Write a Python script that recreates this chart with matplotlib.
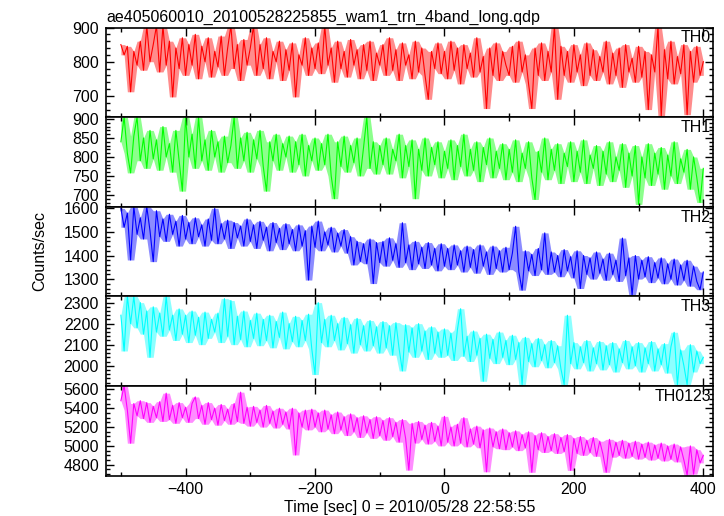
import numpy as np
import matplotlib
matplotlib.use("Agg")
import matplotlib.pyplot as plt
from matplotlib.ticker import MultipleLocator
import matplotlib.transforms as mtransforms

plt.rcParams['font.family'] = ['Liberation Sans', 'DejaVu Sans']

TITLE = "ae405060010_20100528225855_wam1_trn_4band_long.qdp"
XLABEL = "Time [sec] 0 = 2010/05/28 22:58:55"
YLABEL = "Counts/sec"
TIME_START = -500
TIME_BIN = 5

band_names = ["TH0", "TH1", "TH2", "TH3", "TH0123"]
band_colors = ["#ff0000", "#00ff00", "#0000ff", "#00ffff", "#ff00ff"]

th0 = [850, 820, 845, 712, 830, 790, 860, 775, 905, 800, 850, 905, 770, 905, 790, 860, 697, 840, 780, 870,
       760, 850, 790, 880, 750, 845, 800, 870, 755, 830, 785, 875, 760, 840, 905, 780, 850, 745, 865, 790,
       840, 905, 760, 850, 780, 870, 750, 830, 800, 860, 745, 835, 775, 855, 697, 820, 790, 870, 760, 840,
       780, 855, 765, 905, 790, 840, 740, 860, 780, 830, 755, 865, 790, 835, 750, 850, 775, 860, 745, 825,
       790, 850, 760, 870, 775, 835, 745, 855, 790, 820, 750, 860, 770, 840, 760, 690, 830, 780, 855, 765,
       830, 750, 860, 775, 840, 735, 850, 780, 825, 755, 870, 770, 815, 663, 840, 760, 855, 745, 830, 790,
       760, 845, 740, 860, 770, 820, 735, 663, 840, 760, 855, 745, 830, 770, 905, 690, 845, 760, 830, 740,
       850, 770, 820, 730, 855, 760, 835, 745, 815, 770, 860, 735, 825, 760, 840, 725, 850, 770, 810, 740,
       845, 755, 830, 660, 820, 770, 905, 640, 835, 750, 860, 735, 815, 765, 850, 645, 830, 740, 845, 760,
       800]

th1 = [840, 905, 810, 758, 855, 905, 790, 850, 770, 870, 795, 845, 765, 880, 800, 835, 760, 870, 790, 710,
       905, 800, 860, 770, 905, 790, 845, 765, 870, 800, 840, 760, 855, 785, 830, 905, 770, 850, 790, 865,
       760, 845, 795, 870, 775, 710, 840, 790, 860, 765, 835, 800, 855, 760, 840, 780, 860, 750, 830, 790,
       850, 765, 835, 780, 860, 750, 690, 840, 775, 855, 760, 830, 785, 850, 750, 825, 905, 770, 840, 755,
       830, 780, 850, 755, 820, 790, 860, 745, 830, 775, 845, 690, 820, 765, 850, 750, 825, 780, 840, 745,
       815, 770, 845, 740, 830, 775, 860, 750, 820, 765, 840, 735, 825, 780, 850, 745, 815, 770, 835, 740,
       820, 760, 845, 735, 810, 770, 840, 745, 688, 815, 760, 850, 740, 820, 765, 835, 730, 810, 775, 840,
       735, 815, 760, 845, 730, 805, 770, 830, 725, 815, 755, 840, 735, 800, 765, 835, 720, 810, 750, 830,
       675, 800, 745, 835, 725, 810, 755, 825, 715, 805, 750, 840, 730, 795, 760, 820, 715, 800, 745, 680,
       770]

th2 = [1600, 1520, 1580, 1381, 1607, 1490, 1560, 1470, 1607, 1505, 1374, 1590, 1480, 1555, 1460, 1575, 1490, 1545, 1440, 1570,
       1470, 1540, 1450, 1560, 1480, 1530, 1440, 1555, 1465, 1600, 1450, 1535, 1470, 1550, 1430, 1540, 1475, 1525, 1440, 1555,
       1460, 1530, 1430, 1545, 1465, 1520, 1420, 1540, 1455, 1515, 1425, 1535, 1450, 1510, 1420, 1530, 1440, 1505, 1296, 1525,
       1435, 1546, 1420, 1500, 1445, 1520, 1415, 1495, 1440, 1510, 1410, 1480, 1360, 1460, 1375, 1450, 1365, 1470, 1281, 1455,
       1370, 1460, 1355, 1475, 1380, 1450, 1350, 1539, 1370, 1445, 1340, 1460, 1365, 1435, 1345, 1455, 1360, 1430, 1335, 1450,
       1355, 1430, 1340, 1445, 1360, 1420, 1330, 1440, 1350, 1425, 1325, 1445, 1355, 1415, 1320, 1440, 1345, 1420, 1330, 1435,
       1340, 1410, 1524, 1330, 1253, 1420, 1335, 1405, 1315, 1430, 1340, 1496, 1320, 1415, 1330, 1400, 1310, 1425, 1335, 1395,
       1305, 1420, 1260, 1400, 1320, 1390, 1300, 1415, 1325, 1385, 1295, 1410, 1320, 1380, 1290, 1474, 1315, 1390, 1231, 1400,
       1300, 1380, 1310, 1395, 1285, 1370, 1305, 1390, 1280, 1365, 1300, 1385, 1275, 1360, 1295, 1380, 1270, 1355, 1290, 1255,
       1330]

th3 = [2240, 2070, 2330, 2200, 2330, 2180, 2300, 2150, 2260, 2040, 2280, 2160, 2250, 2140, 2330, 2170, 2240, 2120, 2270, 2150,
       2240, 2110, 2260, 2145, 2230, 2100, 2255, 2130, 2220, 2160, 2250, 2110, 2319, 2140, 2310, 2100, 2235, 2125, 2260, 2090,
       2215, 2130, 2250, 2095, 2220, 2120, 2240, 2085, 2210, 2135, 2255, 2080, 2200, 2115, 2235, 2090, 2215, 2120, 2245, 2080,
       1958, 2300, 2110, 2220, 2090, 2240, 2120, 2200, 2075, 2230, 2105, 2195, 2060, 2225, 2100, 2190, 2070, 2215, 2095, 2185,
       2060, 2210, 2085, 2190, 2050, 2205, 2080, 1975, 2195, 2065, 2180, 2040, 2200, 2070, 2165, 2030, 2185, 2060, 2160, 2040,
       2175, 2050, 2155, 2025, 2170, 2271, 2045, 2140, 2020, 2165, 2050, 2130, 1926, 2150, 2035, 2125, 2010, 2160, 2040, 2120,
       2005, 2145, 2030, 2110, 1910, 2135, 2020, 2105, 1995, 2130, 2025, 2100, 1990, 2120, 2015, 2095, 1985, 1910, 2240, 2010,
       2110, 1985, 2090, 2015, 2120, 1975, 2085, 2010, 2115, 1980, 2095, 2005, 2110, 1970, 2080, 2015, 2120, 1985, 2090, 2000,
       2110, 1970, 2085, 2010, 2115, 1975, 2080, 2005, 2105, 1965, 2090, 2159, 1910, 2075, 2000, 1910, 2100, 1970, 2070, 2010,
       2040]

th0123 = [5480, 5637, 5380, 5029, 5450, 5320, 5480, 5290, 5460, 5250, 5420, 5300, 5470, 5260, 5560, 5280, 5430, 5240, 5460, 5300,
          5410, 5250, 5450, 5520, 5290, 5430, 5230, 5460, 5280, 5400, 5220, 5440, 5270, 5390, 5230, 5450, 5260, 5571, 5240, 5410,
          5210, 5420, 5250, 5380, 5200, 5430, 5240, 5370, 5190, 5400, 5230, 5360, 5180, 5400, 4904, 5350, 5200, 5380, 5170, 5390,
          5200, 5350, 5150, 5380, 5180, 5330, 5130, 5360, 5170, 5310, 5110, 5340, 5150, 5300, 5090, 5320, 5140, 5280, 5080, 5310,
          5110, 5270, 5060, 5300, 5100, 5250, 5040, 5280, 5080, 4743, 5240, 5030, 5260, 5070, 5220, 5020, 5250, 5050, 5210, 5000,
          5314, 5040, 5200, 5000, 5230, 5030, 5300, 4990, 5180, 5020, 5210, 4980, 5170, 4725, 5190, 4990, 5150, 4970, 5180, 4960,
          5140, 4990, 5160, 4950, 5120, 4980, 5150, 4720, 5110, 4960, 5140, 4930, 5100, 4950, 5130, 4920, 5090, 4940, 5120, 4740,
          5080, 4920, 5100, 4900, 5060, 4930, 5090, 4890, 5050, 4910, 4720, 5070, 4880, 5040, 4900, 5060, 4870, 5030, 4890, 5050,
          4860, 5020, 4880, 5040, 4850, 5010, 4870, 5030, 4840, 5000, 4860, 5020, 4830, 4990, 4850, 4690, 5000, 4700, 4960, 4820,
          4900]

series = [th0, th1, th2, th3, th0123]
ylims = [(638, 900), (669, 905), (1227, 1607), (1904, 2330), (4686, 5637)]
major_steps = [100, 50, 100, 100, 200]
minor_steps = [20, 10, 20, 20, 50]
xlim = (-523, 415)

fig = plt.figure(figsize=(7.24, 5.16), dpi=100)
left, right = 106 / 724, 713 / 724
top, bottom = 1 - 27.5 / 516, 1 - 475.5 / 516
axes = fig.subplots(5, 1, sharex=True,
                    gridspec_kw=dict(hspace=0, left=left, right=right, top=top, bottom=bottom))

for ax, vals, name, col, yl, ms, mn in zip(axes, series, band_names, band_colors,
                                           ylims, major_steps, minor_steps):
    v = np.asarray(vals, dtype=float)
    t = TIME_START + TIME_BIN * np.arange(len(v))
    # pale band spanning each point and its neighbours
    padded = np.concatenate([[v[0]], v, [v[-1]]])
    stack = np.vstack([padded[:-2], padded[1:-1], padded[2:]])
    hi = stack.max(axis=0)
    lo = stack.min(axis=0)
    ax.fill_between(t, lo, hi, color=col, alpha=0.45, lw=0)
    ax.plot(t, v, color=col, lw=0.8)
    ax.set_ylim(*yl)
    ax.set_xlim(*xlim)
    ax.yaxis.set_major_locator(MultipleLocator(ms))
    ax.yaxis.set_minor_locator(MultipleLocator(mn))
    ax.xaxis.set_major_locator(MultipleLocator(200))
    ax.xaxis.set_minor_locator(MultipleLocator(100))
    ax.tick_params(which='both', direction='in', top=True, right=True,
                   labelsize=11.5, width=1.0, pad=5)
    ax.tick_params(which='major', length=6)
    ax.tick_params(which='minor', length=3)
    for sp in ax.spines.values():
        sp.set_linewidth(1.2)
    off = mtransforms.offset_copy(ax.transAxes, fig=fig, x=-2, y=-3, units='dots')
    ax.text(1.0, 1.0, name, transform=off, ha='right', va='top', fontsize=11.5)

axes[0].set_title(TITLE, loc='left', fontsize=11.5, pad=4)
axes[-1].set_xlabel(XLABEL, fontsize=11.5, labelpad=2)
fig.text(40 / 724, 1 - 251 / 516, YLABEL, rotation=90, ha='center', va='center', fontsize=11.5)

fig.savefig("out.png", dpi=100)
